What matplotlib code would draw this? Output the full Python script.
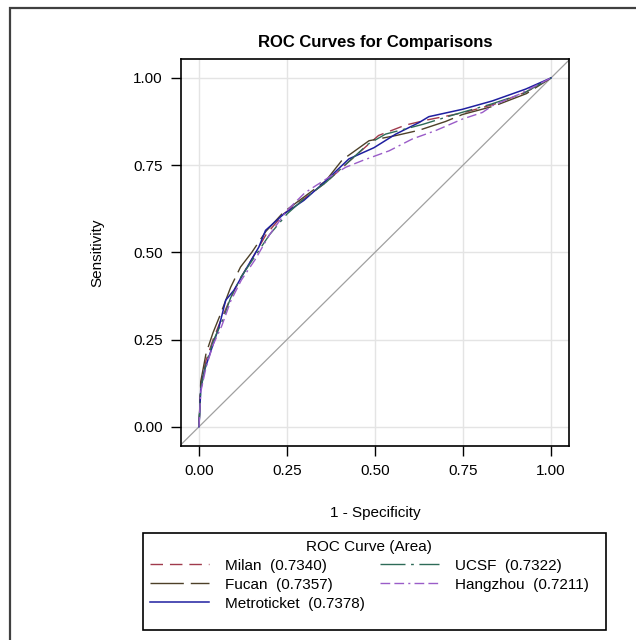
import matplotlib
matplotlib.use("Agg")
import matplotlib.pyplot as plt
from matplotlib.patches import Rectangle

plt.rcParams["font.family"] = ["Liberation Sans", "DejaVu Sans"]

# ROC points (1 - specificity, sensitivity)
milan_fpr = [0, 0.005, 0.02, 0.04, 0.06, 0.09, 0.12, 0.15, 0.19, 0.24, 0.3, 0.36,
             0.42, 0.51, 0.587, 0.65, 0.75, 0.84, 0.93, 1.0]
milan_tpr = [0, 0.12, 0.19, 0.25, 0.30, 0.37, 0.43, 0.48, 0.55, 0.61, 0.655, 0.70,
             0.755, 0.835, 0.865, 0.88, 0.90, 0.925, 0.96, 1.0]

fucan_fpr = [0, 0.005, 0.02, 0.04, 0.06, 0.09, 0.118, 0.15, 0.19, 0.24, 0.3, 0.36,
             0.407, 0.483, 0.56, 0.625, 0.7, 0.748, 0.84, 0.93, 1.0]
fucan_tpr = [0, 0.13, 0.21, 0.27, 0.32, 0.40, 0.458, 0.50, 0.56, 0.615, 0.66, 0.705,
             0.765, 0.82, 0.835, 0.85, 0.875, 0.895, 0.92, 0.955, 1.0]

metro_fpr = [0, 0.005, 0.015, 0.028, 0.057, 0.076, 0.099, 0.137, 0.17, 0.189, 0.241,
             0.298, 0.355, 0.426, 0.497, 0.559, 0.625, 0.653, 0.748, 0.833, 0.928, 1.0]
metro_tpr = [0, 0.106, 0.16, 0.2, 0.287, 0.363, 0.391, 0.458, 0.515, 0.563, 0.61,
             0.649, 0.70, 0.768, 0.80, 0.839, 0.872, 0.889, 0.91, 0.934, 0.968, 1.0]

ucsf_fpr = [0, 0.005, 0.02, 0.04, 0.065, 0.09, 0.12, 0.16, 0.2, 0.25, 0.3, 0.36,
            0.42, 0.48, 0.53, 0.636, 0.729, 0.83, 0.92, 1.0]
ucsf_tpr = [0, 0.11, 0.18, 0.245, 0.30, 0.37, 0.43, 0.49, 0.55, 0.61, 0.655, 0.70,
            0.755, 0.81, 0.839, 0.867, 0.896, 0.925, 0.955, 1.0]

hangzhou_fpr = [0, 0.005, 0.02, 0.04, 0.065, 0.09, 0.12, 0.16, 0.2, 0.25, 0.3, 0.33,
                0.369, 0.417, 0.464, 0.54, 0.606, 0.672, 0.748, 0.805, 0.833, 0.909, 1.0]
hangzhou_tpr = [0, 0.10, 0.17, 0.235, 0.29, 0.36, 0.42, 0.48, 0.55, 0.62, 0.67, 0.69,
                0.715, 0.744, 0.763, 0.791, 0.825, 0.849, 0.882, 0.901, 0.92, 0.953, 1.0]

ticks = [0.0, 0.25, 0.5, 0.75, 1.0]
tick_labels = ["0.00", "0.25", "0.50", "0.75", "1.00"]

fig = plt.figure(figsize=(6.36, 6.40), dpi=100)
# outer border (only left and top edges are visible in the reference)
fig.patches.append(Rectangle((10 / 636, -0.1), 1.2, 1 - 8 / 640 + 0.1,
                             transform=fig.transFigure, fill=False,
                             edgecolor="#404040", linewidth=1.6))
# legend box
fig.patches.append(Rectangle((143 / 636, 1 - 630 / 640), 463 / 636, 97 / 640,
                             transform=fig.transFigure, fill=False,
                             edgecolor="black", linewidth=1.2))

ax = fig.add_axes([181 / 636, 1 - 445.7 / 640, 388 / 636, 386.7 / 640])
ax.set_xlim(-0.0511, 1.0511)
ax.set_ylim(-0.0543, 1.0543)
ax.grid(True, color="#e4e4e4", linewidth=1.0)
ax.set_axisbelow(True)

ax.plot([-0.06, 1.06], [-0.06, 1.06], color="#a0a0a0", linewidth=0.9, zorder=1)

ax.plot(milan_fpr, milan_tpr, color="#a03a4c", linewidth=1.0,
        linestyle=(0, (9, 5)), label="Milan  (0.7340)")
ax.plot(fucan_fpr, fucan_tpr, color="#4d4028", linewidth=1.0,
        linestyle=(0, (24, 5)), label="Fucan  (0.7357)")
ax.plot(metro_fpr, metro_tpr, color="#1f1fa0", linewidth=1.1,
        linestyle="-", label="Metroticket  (0.7378)")
ax.plot(ucsf_fpr, ucsf_tpr, color="#2e6b58", linewidth=1.0,
        linestyle=(0, (18, 4, 2, 4)), label="UCSF  (0.7322)")
ax.plot(hangzhou_fpr, hangzhou_tpr, color="#9a5cc8", linewidth=1.0,
        linestyle=(0, (7, 3, 7, 3, 1.5, 3)), label="Hangzhou  (0.7211)")

ax.set_xticks(ticks)
ax.set_xticklabels(tick_labels)
ax.set_yticks(ticks)
ax.set_yticklabels(tick_labels)
ax.tick_params(length=7, width=1, labelsize=11, pad=6)
for s in ax.spines.values():
    s.set_linewidth(1.2)

ax.set_title("ROC Curves for Comparisons", fontsize=12, fontweight="bold", pad=9)
ax.set_xlabel("1 - Specificity", fontsize=11, labelpad=20)
ax.set_ylabel("Sensitivity", fontsize=11, labelpad=21)

fig.legend(loc="upper left",
           bbox_to_anchor=(143 / 636, 1 - 533 / 640),
           ncol=2, title="ROC Curve (Area)",
           fontsize=11, title_fontsize=11, frameon=False,
           borderaxespad=0, handlelength=3.9, handletextpad=1.0,
           labelspacing=0.32, borderpad=0.45, columnspacing=1.0)

fig.savefig("out.png", dpi=100)
